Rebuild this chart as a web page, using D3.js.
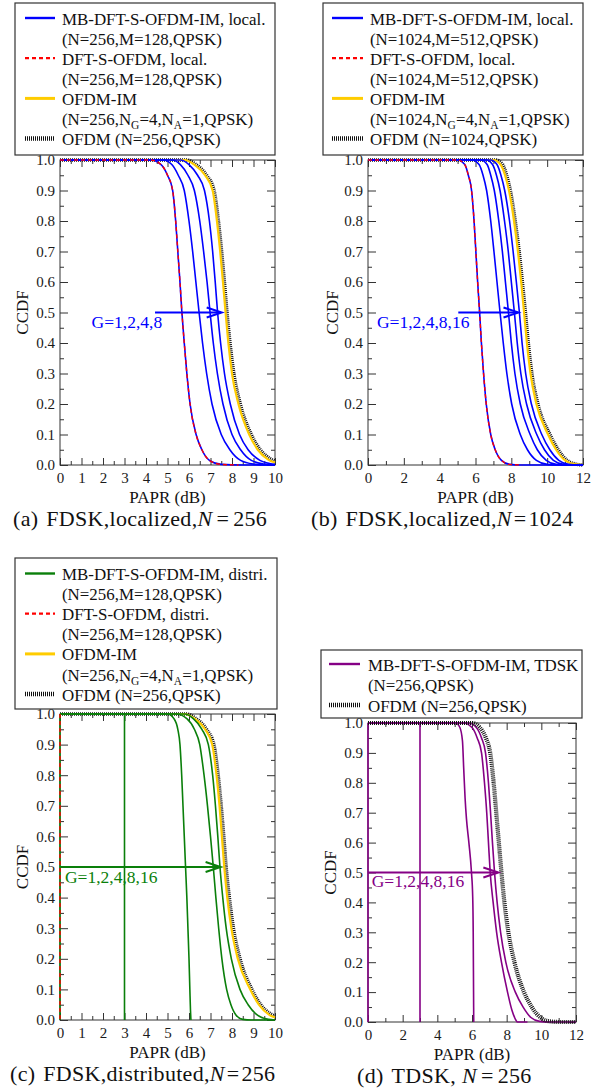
<!DOCTYPE html>
<html>
<head>
<meta charset="utf-8">
<script src="https://cdn.jsdelivr.net/npm/d3@7"></script>
<style>
  body { margin: 0; background: #fff; }
  svg { display: block; }
  text { font-family: "Liberation Serif", "Times New Roman", serif; }
</style>
</head>
<body>
<svg id="fig" width="600" height="1089"></svg>
<script>
// ---------- axis ticks ----------
const ccdfMajor = [0, 0.1, 0.2, 0.3, 0.4, 0.5, 0.6, 0.7, 0.8, 0.9, 1.0];
const ccdfMinor = [0.05, 0.15, 0.25, 0.35, 0.45, 0.55, 0.65, 0.75, 0.85, 0.95];
const papr10Major = [0, 1, 2, 3, 4, 5, 6, 7, 8, 9, 10];
const papr10Minor = [0.5, 1.5, 2.5, 3.5, 4.5, 5.5, 6.5, 7.5, 8.5, 9.5];
const papr12Major = [0, 2, 4, 6, 8, 10, 12];
const papr12Minor = [1, 3, 5, 7, 9, 11];

// ---------- (a) FDSK localized, N=256 : [PAPR dB, CCDF] ----------
const a_mbG1 = [[0,1],[4.2,1],[4.7,0.985],[5.0,0.95],[5.24,0.9],[5.38,0.8],[5.48,0.7],[5.58,0.6],[5.67,0.5],[5.78,0.4],[5.9,0.3],[6.05,0.2],[6.33,0.1],[6.6,0.05],[6.95,0.015],[7.5,0.002],[8.5,0],[10,0]];
const a_mbG2 = [[0,1],[4.8,1],[5.2,0.985],[5.5,0.95],[5.78,0.9],[6.0,0.8],[6.17,0.7],[6.32,0.6],[6.47,0.5],[6.63,0.4],[6.82,0.3],[7.07,0.2],[7.5,0.1],[7.9,0.05],[8.4,0.015],[9.0,0.003],[9.6,0],[10,0]];
const a_mbG4 = [[0,1],[5.2,1],[5.6,0.985],[5.95,0.95],[6.25,0.9],[6.5,0.8],[6.68,0.7],[6.84,0.6],[6.98,0.5],[7.13,0.4],[7.32,0.3],[7.58,0.2],[8.0,0.1],[8.4,0.05],[8.9,0.015],[9.5,0.003],[10,0]];
const a_mbG8 = [[0,1],[5.6,1],[6.0,0.985],[6.4,0.95],[6.72,0.9],[6.95,0.8],[7.1,0.7],[7.22,0.6],[7.33,0.5],[7.47,0.4],[7.65,0.3],[7.92,0.2],[8.35,0.1],[8.75,0.05],[9.3,0.015],[9.8,0.004],[10,0.002]];
const a_dft = [[0,1],[4.2,1],[4.7,0.985],[5.0,0.95],[5.24,0.9],[5.38,0.8],[5.48,0.7],[5.58,0.6],[5.67,0.5],[5.78,0.4],[5.9,0.3],[6.05,0.2],[6.33,0.1],[6.6,0.05],[6.95,0.015],[7.5,0.002],[8.3,0]];
const a_im = [[0,1],[5.8,1],[6.25,0.985],[6.75,0.95],[7.1,0.9],[7.3,0.8],[7.45,0.7],[7.58,0.6],[7.7,0.5],[7.83,0.4],[8.0,0.3],[8.3,0.2],[8.8,0.1],[9.2,0.05],[9.7,0.017],[10,0.008]];
const a_ofdm = [[0,1],[5.9,1],[6.33,0.985],[6.82,0.95],[7.17,0.9],[7.37,0.8],[7.52,0.7],[7.65,0.6],[7.77,0.5],[7.91,0.4],[8.09,0.3],[8.39,0.2],[8.9,0.1],[9.32,0.05],[9.8,0.02],[10,0.013]];

// ---------- (b) FDSK localized, N=1024 ----------
const b_mbG1 = [[0,1],[5.0,1],[5.4,0.985],[5.6,0.95],[5.78,0.9],[5.92,0.8],[6.02,0.7],[6.12,0.6],[6.23,0.5],[6.33,0.4],[6.45,0.3],[6.6,0.2],[6.85,0.1],[7.1,0.05],[7.45,0.015],[7.9,0.002],[8.5,0],[12,0]];
const b_mbG2 = [[0,1],[5.8,1],[6.2,0.985],[6.42,0.95],[6.62,0.9],[6.85,0.8],[7.03,0.7],[7.2,0.6],[7.37,0.5],[7.55,0.4],[7.75,0.3],[8.02,0.2],[8.5,0.1],[8.9,0.05],[9.4,0.015],[10,0.002],[10.6,0],[12,0]];
const b_mbG4 = [[0,1],[6.3,1],[6.65,0.985],[6.85,0.95],[7.05,0.9],[7.3,0.8],[7.5,0.7],[7.67,0.6],[7.84,0.5],[8.0,0.4],[8.2,0.3],[8.5,0.2],[9.05,0.1],[9.45,0.05],[9.95,0.015],[10.5,0.002],[11.1,0],[12,0]];
const b_mbG8 = [[0,1],[6.6,1],[6.95,0.985],[7.17,0.95],[7.37,0.9],[7.62,0.8],[7.83,0.7],[8.0,0.6],[8.17,0.5],[8.33,0.4],[8.53,0.3],[8.85,0.2],[9.42,0.1],[9.85,0.05],[10.35,0.015],[10.9,0.002],[11.4,0],[12,0]];
const b_mbG16 = [[0,1],[6.85,1],[7.2,0.985],[7.42,0.95],[7.63,0.9],[7.9,0.8],[8.1,0.7],[8.28,0.6],[8.45,0.5],[8.6,0.4],[8.8,0.3],[9.12,0.2],[9.7,0.1],[10.15,0.05],[10.65,0.015],[11.2,0.002],[11.7,0],[12,0]];
const b_dft = [[0,1],[5.0,1],[5.4,0.985],[5.6,0.95],[5.78,0.9],[5.92,0.8],[6.02,0.7],[6.12,0.6],[6.23,0.5],[6.33,0.4],[6.45,0.3],[6.6,0.2],[6.85,0.1],[7.1,0.05],[7.45,0.015],[7.9,0.002],[8.6,0]];
const b_im = [[0,1],[7.0,1],[7.4,0.985],[7.65,0.95],[7.87,0.9],[8.15,0.8],[8.37,0.7],[8.55,0.6],[8.71,0.5],[8.87,0.4],[9.07,0.3],[9.4,0.2],[10.05,0.1],[10.5,0.05],[11.0,0.015],[11.5,0.003],[12,0]];
const b_ofdm = [[0,1],[7.15,1],[7.52,0.985],[7.74,0.95],[7.95,0.9],[8.22,0.8],[8.44,0.7],[8.62,0.6],[8.79,0.5],[8.95,0.4],[9.15,0.3],[9.49,0.2],[10.16,0.1],[10.62,0.05],[11.12,0.015],[11.6,0.003],[12,0]];

// ---------- (c) FDSK distributed, N=256 ----------
const c_mbG1 = [[0,1],[0,0]];
const c_mbG2 = [[0,1],[3,1],[3,0]];
const c_mbG4 = [[0,1],[5.0,1],[5.3,0.985],[5.48,0.95],[5.58,0.9],[5.66,0.8],[5.72,0.7],[5.78,0.6],[5.84,0.5],[5.9,0.4],[5.95,0.3],[6.0,0.2],[6.04,0.1],[6.07,0.03],[6.09,0]];
const c_mbG8 = [[0,1],[5.4,1],[5.9,0.985],[6.25,0.95],[6.5,0.9],[6.7,0.8],[6.86,0.7],[7.0,0.6],[7.13,0.5],[7.25,0.4],[7.38,0.3],[7.53,0.2],[7.75,0.1],[7.95,0.05],[8.2,0.015],[8.5,0.002],[8.9,0],[10,0]];
const c_mbG16 = [[0,1],[5.8,1],[6.2,0.985],[6.6,0.95],[6.9,0.9],[7.1,0.8],[7.23,0.7],[7.34,0.6],[7.44,0.5],[7.57,0.4],[7.73,0.3],[7.97,0.2],[8.37,0.1],[8.75,0.05],[9.2,0.015],[9.7,0.002],[10,0]];
const c_dft = [[0,1],[0,0]];
const c_im = [[0,1],[5.8,1],[6.25,0.985],[6.75,0.95],[7.08,0.9],[7.28,0.8],[7.42,0.7],[7.53,0.6],[7.64,0.5],[7.78,0.4],[7.97,0.3],[8.27,0.2],[8.85,0.1],[9.25,0.05],[9.75,0.016],[10,0.008]];
const c_ofdm = [[0,1],[5.9,1],[6.33,0.985],[6.82,0.95],[7.16,0.9],[7.36,0.8],[7.5,0.7],[7.62,0.6],[7.73,0.5],[7.88,0.4],[8.07,0.3],[8.38,0.2],[8.93,0.1],[9.34,0.05],[9.8,0.02],[10,0.013]];

// ---------- (d) TDSK, N=256 ----------
const d_mbG1 = [[0,1],[0,0]];
const d_mbG2 = [[0,1],[3,1],[3,0]];
const d_mbG4 = [[0,1],[5.05,1],[5.3,0.985],[5.45,0.94],[5.52,0.85],[5.6,0.75],[5.68,0.68],[5.82,0.6],[5.97,0.5],[6.04,0.42],[6.07,0.3],[6.09,0.1],[6.1,0]];
const d_mbG8 = [[0,1],[5.5,1],[6.0,0.985],[6.3,0.95],[6.55,0.9],[6.72,0.8],[6.85,0.7],[6.95,0.6],[7.05,0.5],[7.22,0.4],[7.42,0.3],[7.7,0.2],[8.05,0.1],[8.3,0.04],[8.5,0.01],[8.62,0],[9.2,0]];
const d_mbG16 = [[0,1],[5.8,1],[6.25,0.985],[6.55,0.95],[6.78,0.9],[6.95,0.8],[7.07,0.7],[7.18,0.6],[7.3,0.5],[7.45,0.4],[7.65,0.3],[7.95,0.2],[8.5,0.1],[8.95,0.05],[9.4,0.015],[9.9,0.002],[10.4,0],[12,0]];
const d_ofdm = [[0,1],[6.0,1],[6.45,0.985],[6.8,0.95],[7.05,0.9],[7.25,0.8],[7.4,0.7],[7.55,0.6],[7.7,0.5],[7.87,0.4],[8.1,0.3],[8.45,0.2],[9.0,0.1],[9.45,0.05],[9.95,0.015],[10.4,0.003],[11,0],[12,0]];

// ---------- G-sweep arrows: [from dB, to dB, ccdf] ----------
const a_arrow = [4.42, 7.52, 0.5];
const b_arrow = [5.04, 8.4, 0.5];
const c_arrow = [0, 7.47, 0.5];
const d_arrow = [0, 7.52, 0.5];

// ---------- line styles ----------
const BLUE = "#0000ff", RED = "#ff0000", GOLD = "#ffcc00", GREEN = "#0a7f0a", PURPLE = "#850085", BLACK = "#111";
const st = {
  mbBlue:   { stroke: BLUE,   width: 1.6 },
  mbGreen:  { stroke: GREEN,  width: 1.6 },
  mbPurple: { stroke: PURPLE, width: 1.6 },
  dft:      { stroke: RED,    width: 1.4, dash: "4,3" },
  im:       { stroke: GOLD,   width: 2.2 },
  ofdm:     { stroke: BLACK,  width: 3.4, dash: "1,1" }
};

const svg = d3.select("#fig");
const FRAME = "#333";

function drawPanel(p) {
  const g = svg.append("g");
  const x = d3.scaleLinear().domain([0, p.xmax]).range([p.x0, p.x1]);
  const y = d3.scaleLinear().domain([0, 1]).range([p.y1, p.y0]);
  const w = p.x1 - p.x0, h = p.y1 - p.y0;

  // frame
  g.append("rect").attr("x", p.x0).attr("y", p.y0).attr("width", w).attr("height", h)
    .attr("fill", "none").attr("stroke", FRAME).attr("stroke-width", 1);

  const styleAxis = sel => {
    sel.select(".domain").remove();
    sel.selectAll(".tick line").attr("stroke", FRAME).attr("stroke-width", 1);
    sel.selectAll(".tick text").attr("fill", "#1a1a1a").style("font-size", "15px")
      .style("font-family", '"Liberation Serif","Times New Roman",serif');
  };
  // bottom (labelled) + top
  g.append("g").attr("transform", `translate(0,${p.y1})`)
    .call(d3.axisBottom(x).tickValues(p.xMajor).tickSizeInner(-7).tickSizeOuter(0).tickPadding(7).tickFormat(d3.format("d")))
    .call(styleAxis);
  g.append("g").attr("transform", `translate(0,${p.y1})`)
    .call(d3.axisBottom(x).tickValues(p.xMinor).tickSizeInner(-4).tickSizeOuter(0).tickFormat(""))
    .call(styleAxis);
  g.append("g").attr("transform", `translate(0,${p.y0})`)
    .call(d3.axisTop(x).tickValues(p.xMajor).tickSizeInner(-7).tickSizeOuter(0).tickFormat(""))
    .call(styleAxis);
  g.append("g").attr("transform", `translate(0,${p.y0})`)
    .call(d3.axisTop(x).tickValues(p.xMinor).tickSizeInner(-4).tickSizeOuter(0).tickFormat(""))
    .call(styleAxis);
  // left (labelled) + right
  g.append("g").attr("transform", `translate(${p.x0},0)`)
    .call(d3.axisLeft(y).tickValues(ccdfMajor).tickSizeInner(-8).tickSizeOuter(0).tickPadding(5).tickFormat(d3.format(".1f")))
    .call(styleAxis);
  g.append("g").attr("transform", `translate(${p.x0},0)`)
    .call(d3.axisLeft(y).tickValues(ccdfMinor).tickSizeInner(-4).tickSizeOuter(0).tickFormat(""))
    .call(styleAxis);
  g.append("g").attr("transform", `translate(${p.x1},0)`)
    .call(d3.axisRight(y).tickValues(ccdfMajor).tickSizeInner(-8).tickSizeOuter(0).tickFormat(""))
    .call(styleAxis);
  g.append("g").attr("transform", `translate(${p.x1},0)`)
    .call(d3.axisRight(y).tickValues(ccdfMinor).tickSizeInner(-4).tickSizeOuter(0).tickFormat(""))
    .call(styleAxis);

  // curves
  p.series.forEach(([data, s]) => {
    const vertical = data.some((d, i) => i > 0 && d[0] === data[i - 1][0]);
    const line = d3.line().x(d => x(d[0])).y(d => y(d[1]))
      .curve(vertical ? d3.curveLinear : d3.curveMonotoneX);
    g.append("path").attr("d", line(data)).attr("fill", "none")
      .attr("stroke", s.stroke).attr("stroke-width", s.width)
      .attr("stroke-dasharray", s.dash || null).attr("stroke-linejoin", "round");
  });

  // G-sweep arrow
  const [ax0, ax1, ay] = p.arrow;
  const X0 = x(ax0), X1 = x(ax1), Y = y(ay);
  g.append("line").attr("x1", X0).attr("x2", X1 - 1).attr("y1", Y).attr("y2", Y)
    .attr("stroke", p.color).attr("stroke-width", 2);
  g.append("path").attr("d", `M${X1 - 15},${Y - 5} L${X1},${Y} L${X1 - 15},${Y + 5}`)
    .attr("fill", "none").attr("stroke", p.color).attr("stroke-width", 2);
  g.append("text").attr("x", x(p.gLabel[0])).attr("y", y(p.gLabel[1]))
    .attr("fill", p.color).style("font-size", "17.5px").text(p.gLabel[2]);

  // axis titles
  g.append("text").attr("transform", `translate(${p.yTitleX},${(p.y0 + p.y1) / 2}) rotate(-90)`)
    .attr("dy", "0.35em").attr("text-anchor", "middle").attr("fill", "#111")
    .style("font-size", "17px").text("CCDF");
  g.append("text").attr("x", (p.x0 + p.x1) / 2).attr("y", p.y1 + 38)
    .attr("text-anchor", "middle").attr("fill", "#111").style("font-size", "17px").text("PAPR (dB)");

  // caption
  const cap = g.append("text").attr("x", p.capX).attr("y", p.y1 + 61)
    .attr("fill", "#111").style("font-size", "22px").style("letter-spacing", "0.3px");
  p.caption.forEach(part => {
    cap.append("tspan").attr("dx", part.dx || 0)
      .style("font-style", part.it ? "italic" : null).text(part.t);
  });

  // legend
  const L = p.legend;
  g.append("rect").attr("x", L.x).attr("y", L.y).attr("width", L.w).attr("height", L.h)
    .attr("fill", "#fff").attr("stroke", FRAME).attr("stroke-width", 1.2);
  L.rows.forEach((r, i) => {
    const cy = L.row0 + i * L.step;
    if (r.s) {
      g.append("line").attr("x1", L.sx0).attr("x2", L.sx1).attr("y1", cy - 1).attr("y2", cy - 1)
        .attr("stroke", r.s.stroke).attr("stroke-width", r.s === st.ofdm ? 4.5 : r.s.width + 0.8)
        .attr("stroke-dasharray", r.s.dash || null);
    }
    const t = g.append("text").attr("x", L.tx).attr("y", cy + 5.5)
      .attr("fill", "#111").style("font-size", "16.9px");
    let low = false;
    r.segs.forEach(seg => {
      if (Array.isArray(seg)) {
        t.append("tspan").attr("dy", 4).style("font-size", "11.5px").text(seg[0]);
        low = true;
      } else {
        t.append("tspan").attr("dy", low ? -4 : 0).text(seg);
        low = false;
      }
    });
  });
}

// ---------- layout ----------
const legA = [
  { s: st.mbBlue, segs: ["MB-DFT-S-OFDM-IM, local."] },
  { segs: ["(N=256,M=128,QPSK)"] },
  { s: st.dft, segs: ["DFT-S-OFDM, local."] },
  { segs: ["(N=256,M=128,QPSK)"] },
  { s: st.im, segs: ["OFDM-IM"] },
  { segs: ["(N=256,N", ["G"], "=4,N", ["A"], "=1,QPSK)"] },
  { s: st.ofdm, segs: ["OFDM (N=256,QPSK)"] }
];
const legB = [
  { s: st.mbBlue, segs: ["MB-DFT-S-OFDM-IM, local."] },
  { segs: ["(N=1024,M=512,QPSK)"] },
  { s: st.dft, segs: ["DFT-S-OFDM, local."] },
  { segs: ["(N=1024,M=512,QPSK)"] },
  { s: st.im, segs: ["OFDM-IM"] },
  { segs: ["(N=1024,N", ["G"], "=4,N", ["A"], "=1,QPSK)"] },
  { s: st.ofdm, segs: ["OFDM (N=1024,QPSK)"] }
];
const legC = [
  { s: st.mbGreen, segs: ["MB-DFT-S-OFDM-IM, distri."] },
  { segs: ["(N=256,M=128,QPSK)"] },
  { s: st.dft, segs: ["DFT-S-OFDM, distri."] },
  { segs: ["(N=256,M=128,QPSK)"] },
  { s: st.im, segs: ["OFDM-IM"] },
  { segs: ["(N=256,N", ["G"], "=4,N", ["A"], "=1,QPSK)"] },
  { s: st.ofdm, segs: ["OFDM (N=256,QPSK)"] }
];
const legD = [
  { s: st.mbPurple, segs: ["MB-DFT-S-OFDM-IM, TDSK"] },
  { segs: ["(N=256,QPSK)"] },
  { s: st.ofdm, segs: ["OFDM (N=256,QPSK)"] }
];

drawPanel({
  x0: 60, x1: 275, y0: 160, y1: 465, xmax: 10, xMajor: papr10Major, xMinor: papr10Minor,
  series: [[a_ofdm, st.ofdm], [a_im, st.im], [a_mbG1, st.mbBlue], [a_mbG2, st.mbBlue],
           [a_mbG4, st.mbBlue], [a_mbG8, st.mbBlue], [a_dft, st.dft]],
  arrow: a_arrow, color: BLUE, gLabel: [1.47, 0.45, "G=1,2,4,8"], yTitleX: 22,
  capX: 13, caption: [{ t: "(a)" }, { t: "FDSK,localized,", dx: 8 }, { t: "N", it: true }, { t: "=", dx: 4 }, { t: "256", dx: 4 }],
  legend: { x: 15, y: 3, w: 260, h: 152, row0: 19, step: 20.1, sx0: 25, sx1: 55, tx: 62, rows: legA }
});
drawPanel({
  x0: 368, x1: 583, y0: 160, y1: 465, xmax: 12, xMajor: papr12Major, xMinor: papr12Minor,
  series: [[b_ofdm, st.ofdm], [b_im, st.im], [b_mbG1, st.mbBlue], [b_mbG2, st.mbBlue], [b_mbG4, st.mbBlue],
           [b_mbG8, st.mbBlue], [b_mbG16, st.mbBlue], [b_dft, st.dft]],
  arrow: b_arrow, color: BLUE, gLabel: [0.5, 0.45, "G=1,2,4,8,16"], yTitleX: 332,
  capX: 311, caption: [{ t: "(b)" }, { t: "FDSK,localized,", dx: 8 }, { t: "N", it: true }, { t: "=", dx: 2 }, { t: "1024", dx: 2 }],
  legend: { x: 323, y: 3, w: 260, h: 152, row0: 19, step: 20.1, sx0: 332, sx1: 363, tx: 370, rows: legB }
});
drawPanel({
  x0: 60, x1: 275, y0: 714, y1: 1020, xmax: 10, xMajor: papr10Major, xMinor: papr10Minor,
  series: [[c_ofdm, st.ofdm], [c_im, st.im], [c_mbG1, st.mbGreen], [c_mbG2, st.mbGreen], [c_mbG4, st.mbGreen],
           [c_mbG8, st.mbGreen], [c_mbG16, st.mbGreen], [c_dft, st.dft]],
  arrow: c_arrow, color: GREEN, gLabel: [0.23, 0.447, "G=1,2,4,8,16"], yTitleX: 22,
  capX: 10, caption: [{ t: "(c)" }, { t: "FDSK,distributed,", dx: 8 }, { t: "N", it: true }, { t: "=", dx: 2 }, { t: "256", dx: 2 }],
  legend: { x: 15, y: 558, w: 262, h: 151, row0: 574.5, step: 20.1, sx0: 25, sx1: 55, tx: 62, rows: legC }
});
drawPanel({
  x0: 368, x1: 576, y0: 723, y1: 1022, xmax: 12, xMajor: papr12Major, xMinor: papr12Minor,
  series: [[d_mbG1, st.mbPurple], [d_mbG2, st.mbPurple], [d_mbG4, st.mbPurple], [d_mbG8, st.mbPurple],
           [d_mbG16, st.mbPurple], [d_ofdm, { stroke: BLACK, width: 4.2, dash: "1,1" }]],
  arrow: d_arrow, color: PURPLE, gLabel: [0.21, 0.452, "G=1,2,4,8,16"], yTitleX: 330,
  capX: 357, caption: [{ t: "(d)" }, { t: "TDSK,", dx: 8 }, { t: "N", it: true, dx: 6 }, { t: "=", dx: 4 }, { t: "256", dx: 4 }],
  legend: { x: 321, y: 650, w: 261, h: 68, row0: 665, step: 20.5, sx0: 329, sx1: 360, tx: 368, rows: legD }
});
</script>
</body>
</html>
